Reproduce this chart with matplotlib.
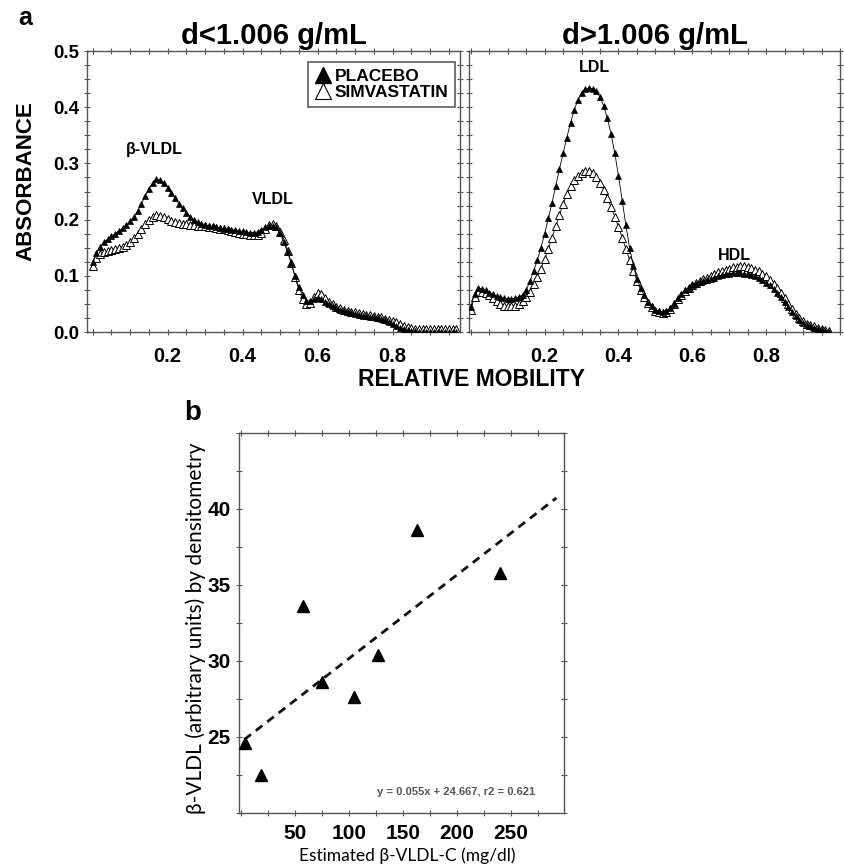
import matplotlib
matplotlib.use("Agg")
import matplotlib.pyplot as plt
from matplotlib.lines import Line2D
from matplotlib.ticker import MultipleLocator, FixedLocator


# Densitometry scan positions (relative mobility)
MOBILITY = [
    0.00, 0.01, 0.02, 0.03, 0.04, 0.05, 0.06, 0.07, 0.08, 0.09, 0.10, 0.11, 0.12, 0.13,
    0.14, 0.15, 0.16, 0.17, 0.18, 0.19, 0.20, 0.21, 0.22, 0.23, 0.24, 0.25, 0.26, 0.27,
    0.28, 0.29, 0.30, 0.31, 0.32, 0.33, 0.34, 0.35, 0.36, 0.37, 0.38, 0.39, 0.40, 0.41,
    0.42, 0.43, 0.44, 0.45, 0.46, 0.47, 0.48, 0.49, 0.50, 0.51, 0.52, 0.53, 0.54, 0.55,
    0.56, 0.57, 0.58, 0.59, 0.60, 0.61, 0.62, 0.63, 0.64, 0.65, 0.66, 0.67, 0.68, 0.69,
    0.70, 0.71, 0.72, 0.73, 0.74, 0.75, 0.76, 0.77, 0.78, 0.79, 0.80, 0.81, 0.82, 0.83,
    0.84, 0.85, 0.86, 0.87, 0.88, 0.89, 0.90, 0.91, 0.92, 0.93, 0.94, 0.95, 0.96, 0.97,
]

# d<1.006 g/mL fraction
LIGHT_PLACEBO = [
    0.125, 0.140, 0.152, 0.160, 0.165, 0.170, 0.175, 0.180, 0.185, 0.190, 0.197, 0.205, 0.215, 0.228,
    0.242, 0.255, 0.265, 0.272, 0.270, 0.265, 0.257, 0.248, 0.238, 0.228, 0.220, 0.212, 0.205, 0.200,
    0.196, 0.193, 0.191, 0.189, 0.188, 0.186, 0.185, 0.184, 0.183, 0.182, 0.181, 0.180, 0.179, 0.178,
    0.177, 0.177, 0.178, 0.182, 0.186, 0.188, 0.189, 0.186, 0.176, 0.160, 0.142, 0.122, 0.100, 0.080,
    0.065, 0.056, 0.055, 0.058, 0.060, 0.058, 0.054, 0.050, 0.046, 0.043, 0.040, 0.038, 0.036, 0.034,
    0.032, 0.030, 0.029, 0.028, 0.027, 0.026, 0.025, 0.023, 0.021, 0.018, 0.015, 0.011, 0.008, 0.005,
    0.003, 0.002, 0.001, 0.000, 0.000, 0.000, 0.000, 0.000, 0.000, 0.000, 0.000, 0.000, 0.000, 0.000,
]
LIGHT_SIMVA = [
    0.118, 0.132, 0.138, 0.142, 0.144, 0.146, 0.148, 0.150, 0.152, 0.155, 0.160, 0.167, 0.175, 0.184,
    0.193, 0.200, 0.205, 0.208, 0.207, 0.204, 0.201, 0.198, 0.196, 0.194, 0.193, 0.192, 0.191, 0.190,
    0.189, 0.189, 0.188, 0.187, 0.186, 0.185, 0.184, 0.183, 0.181, 0.180, 0.178, 0.177, 0.175, 0.174,
    0.173, 0.172, 0.172, 0.176, 0.183, 0.190, 0.192, 0.188, 0.178, 0.163, 0.145, 0.122, 0.098, 0.075,
    0.058, 0.050, 0.052, 0.062, 0.070, 0.068, 0.061, 0.054, 0.049, 0.045, 0.042, 0.040, 0.038, 0.036,
    0.035, 0.034, 0.032, 0.031, 0.030, 0.029, 0.027, 0.026, 0.024, 0.022, 0.020, 0.017, 0.014, 0.011,
    0.009, 0.007, 0.006, 0.005, 0.005, 0.005, 0.005, 0.005, 0.005, 0.005, 0.005, 0.005, 0.005, 0.005,
]

# d>1.006 g/mL fraction
HEAVY_PLACEBO = [
    0.045, 0.068, 0.078, 0.077, 0.074, 0.070, 0.067, 0.064, 0.062, 0.060, 0.059, 0.059, 0.060, 0.062,
    0.066, 0.075, 0.090, 0.108, 0.128, 0.150, 0.175, 0.202, 0.230, 0.260, 0.290, 0.318, 0.346, 0.372,
    0.395, 0.413, 0.425, 0.432, 0.434, 0.433, 0.428, 0.418, 0.402, 0.380, 0.352, 0.318, 0.278, 0.234,
    0.190, 0.150, 0.118, 0.095, 0.078, 0.065, 0.054, 0.046, 0.040, 0.037, 0.036, 0.037, 0.042, 0.050,
    0.060, 0.068, 0.074, 0.079, 0.083, 0.086, 0.089, 0.091, 0.093, 0.095, 0.097, 0.099, 0.101, 0.103,
    0.104, 0.105, 0.105, 0.105, 0.104, 0.103, 0.101, 0.099, 0.096, 0.092, 0.088, 0.083, 0.077, 0.070,
    0.062, 0.053, 0.044, 0.036, 0.028, 0.021, 0.016, 0.012, 0.010, 0.008, 0.006, 0.004, 0.002, 0.000,
]
HEAVY_SIMVA = [
    0.040, 0.062, 0.072, 0.072, 0.069, 0.065, 0.060, 0.055, 0.050, 0.047, 0.046, 0.046, 0.047, 0.050,
    0.055, 0.062, 0.072, 0.085, 0.098, 0.113, 0.130, 0.148, 0.168, 0.188, 0.208, 0.228, 0.245, 0.259,
    0.270, 0.278, 0.283, 0.286, 0.286, 0.283, 0.276, 0.266, 0.253, 0.238, 0.222, 0.205, 0.187, 0.168,
    0.148, 0.128, 0.109, 0.091, 0.075, 0.062, 0.052, 0.044, 0.038, 0.035, 0.034, 0.036, 0.041, 0.049,
    0.058, 0.066, 0.073, 0.079, 0.084, 0.088, 0.091, 0.094, 0.097, 0.100, 0.103, 0.106, 0.109, 0.111,
    0.113, 0.115, 0.116, 0.117, 0.117, 0.116, 0.114, 0.111, 0.108, 0.104, 0.099, 0.093, 0.086, 0.078,
    0.069, 0.060, 0.050, 0.041, 0.032, 0.025, 0.019, 0.015, 0.012, 0.010, 0.008, 0.006, 0.004, 0.002,
]

# Panel b: estimated beta-VLDL-C vs densitometry
BVLDL_C = [4, 18, 57, 75, 105, 127, 163, 240]
BVLDL_DENS = [24.6, 22.5, 33.6, 28.6, 27.6, 30.4, 38.6, 35.8]
FIT_SLOPE = 0.055
FIT_INTERCEPT = 24.667
FIT_R2 = 0.621
FIT_RANGE = [3, 292]

BOLD_FONT = ["Liberation Sans", "DejaVu Sans"]
NARROW_FONT = ["Liberation Sans Narrow", "Liberation Sans", "DejaVu Sans"]
SOFT_FONT = ["Lato", "DejaVu Sans"]
SPINE_COLOR = "#555555"


def styleProfileAxes(ax, showYLabels):
    ax.set_xlim(-0.015, 0.98)
    ax.set_ylim(0.0, 0.5)
    ax.xaxis.set_major_locator(FixedLocator([0.2, 0.4, 0.6, 0.8]))
    ax.xaxis.set_minor_locator(MultipleLocator(0.05))
    ax.yaxis.set_major_locator(MultipleLocator(0.1))
    ax.yaxis.set_minor_locator(MultipleLocator(0.025))
    ax.yaxis.set_major_formatter(plt.FuncFormatter(lambda v, p: f"{v:.1f}"))
    ax.tick_params(which="both", direction="inout", length=4, width=0.8, color=SPINE_COLOR,
                   top=True, right=True)
    ax.tick_params(axis="x", which="major", pad=9)
    ax.tick_params(axis="y", labelleft=showYLabels)
    for spine in ax.spines.values():
        spine.set_color(SPINE_COLOR)
        spine.set_linewidth(1.0)
    for lbl in ax.get_xticklabels():
        lbl.set_fontfamily(NARROW_FONT)
        lbl.set_fontweight("bold")
        lbl.set_fontsize(14.5)
    for lbl in ax.get_yticklabels():
        lbl.set_fontfamily(BOLD_FONT)
        lbl.set_fontweight("bold")
        lbl.set_fontsize(13.5)


def drawProfile(ax, placebo, simva):
    ax.plot(MOBILITY, simva, color="black", lw=0.6, marker="^", markersize=5.5,
            markerfacecolor="white", markeredgecolor="black", markeredgewidth=0.7, zorder=2)
    ax.plot(MOBILITY, placebo, color="black", lw=0.6, marker="^", markersize=5.0,
            markerfacecolor="black", markeredgecolor="black", markeredgewidth=0.5, zorder=3)


fig = plt.figure(figsize=(8.45, 8.68), dpi=100, facecolor="white")

# a) lipoprotein profiles
axLight = fig.add_axes([0.1030, 0.6175, 0.4414, 0.3237])
axHeavy = fig.add_axes([0.5550, 0.6175, 0.4391, 0.3237])

drawProfile(axLight, LIGHT_PLACEBO, LIGHT_SIMVA)
drawProfile(axHeavy, HEAVY_PLACEBO, HEAVY_SIMVA)
styleProfileAxes(axLight, True)
styleProfileAxes(axHeavy, False)
axHeavy.set_xlim(-0.005, 1.0)

axLight.set_title("d<1.006 g/mL", fontfamily=BOLD_FONT, fontweight="bold", fontsize=21, pad=5)
axHeavy.set_title("d>1.006 g/mL", fontfamily=BOLD_FONT, fontweight="bold", fontsize=21, pad=5)
axLight.set_ylabel("ABSORBANCE", fontfamily=BOLD_FONT, fontweight="bold", fontsize=16)
axLight.yaxis.set_label_coords(-0.135, 0.537)

peakFont = dict(fontfamily=BOLD_FONT, fontweight="bold", fontsize=11.5, ha="center", va="center")
axLight.text(0.165, 0.324, "β-VLDL", **peakFont)
axLight.text(0.48, 0.235, "VLDL", **peakFont)
axHeavy.text(0.336, 0.47, "LDL", **peakFont)
axHeavy.text(0.715, 0.137, "HDL", **peakFont)

handles = [
    Line2D([], [], ls="none", marker="^", markersize=12, markerfacecolor="black",
           markeredgecolor="black"),
    Line2D([], [], ls="none", marker="^", markersize=12, markerfacecolor="white",
           markeredgecolor="black", markeredgewidth=0.8),
]
leg = axLight.legend(handles, ["PLACEBO", "SIMVASTATIN"], loc="upper right",
                     bbox_to_anchor=(0.987, 0.962), frameon=True, fancybox=False,
                     handlelength=1.0, handletextpad=0.15, borderpad=0.4,
                     labelspacing=0.05, borderaxespad=0.0,
                     prop=dict(family=NARROW_FONT, weight="bold", size=12.5))
leg.get_frame().set_edgecolor("#333333")
leg.get_frame().set_linewidth(1.2)

fig.text(472 / 845, 1 - 380 / 868, "RELATIVE MOBILITY", ha="center", va="center",
         fontfamily=BOLD_FONT, fontweight="bold", fontsize=16.5)
fig.text(25 / 845, 1 - 18 / 868, "a", ha="center", va="center",
         fontfamily=BOLD_FONT, fontweight="bold", fontsize=18)

# b) correlation plot
axB = fig.add_axes([0.2828, 0.0634, 0.3846, 0.4378])
axB.plot(FIT_RANGE, [FIT_SLOPE * x + FIT_INTERCEPT for x in FIT_RANGE], color="#111111",
         lw=2.0, linestyle=(0, (3, 2.2)), zorder=2)
axB.plot(BVLDL_C, BVLDL_DENS, ls="none", marker="^", markersize=9, color="black", zorder=3)
axB.set_xlim(-2, 299)
axB.set_ylim(20, 45)
axB.xaxis.set_major_locator(FixedLocator([50, 100, 150, 200, 250]))
axB.xaxis.set_minor_locator(MultipleLocator(25))
axB.yaxis.set_major_locator(FixedLocator([25, 30, 35, 40]))
axB.yaxis.set_minor_locator(MultipleLocator(2.5))
axB.tick_params(which="both", direction="inout", length=4, width=0.8, color=SPINE_COLOR,
                top=True, right=True)
axB.tick_params(axis="x", which="major", pad=6)
axB.tick_params(axis="y", which="major", pad=4)
for spine in axB.spines.values():
    spine.set_color(SPINE_COLOR)
    spine.set_linewidth(1.0)
for lbl in axB.get_xticklabels() + axB.get_yticklabels():
    lbl.set_fontfamily(NARROW_FONT)
    lbl.set_fontweight("bold")
    lbl.set_fontsize(15)

fig.text(407 / 845, 1 - 856 / 868, "Estimated β-VLDL-C (mg/dl)", ha="center", va="center",
         fontfamily=SOFT_FONT, fontsize=12.5)
fig.text(196 / 845, 1 - 628 / 868, "β-VLDL (arbitrary units) by densitometry", ha="center",
         va="center", rotation=90, fontfamily=SOFT_FONT, fontsize=15)
axB.text(0.91, 0.055, f"y = {FIT_SLOPE:.3f}x + {FIT_INTERCEPT:.3f}, r2 = {FIT_R2:.3f}",
         transform=axB.transAxes, ha="right", va="center", color="#555555",
         fontfamily=NARROW_FONT, fontweight="bold", fontsize=8)

fig.text(193 / 845, 1 - 413 / 868, "b", ha="center", va="center",
         fontfamily=BOLD_FONT, fontweight="bold", fontsize=20)

fig.savefig("out.png", dpi=100, facecolor="white")
